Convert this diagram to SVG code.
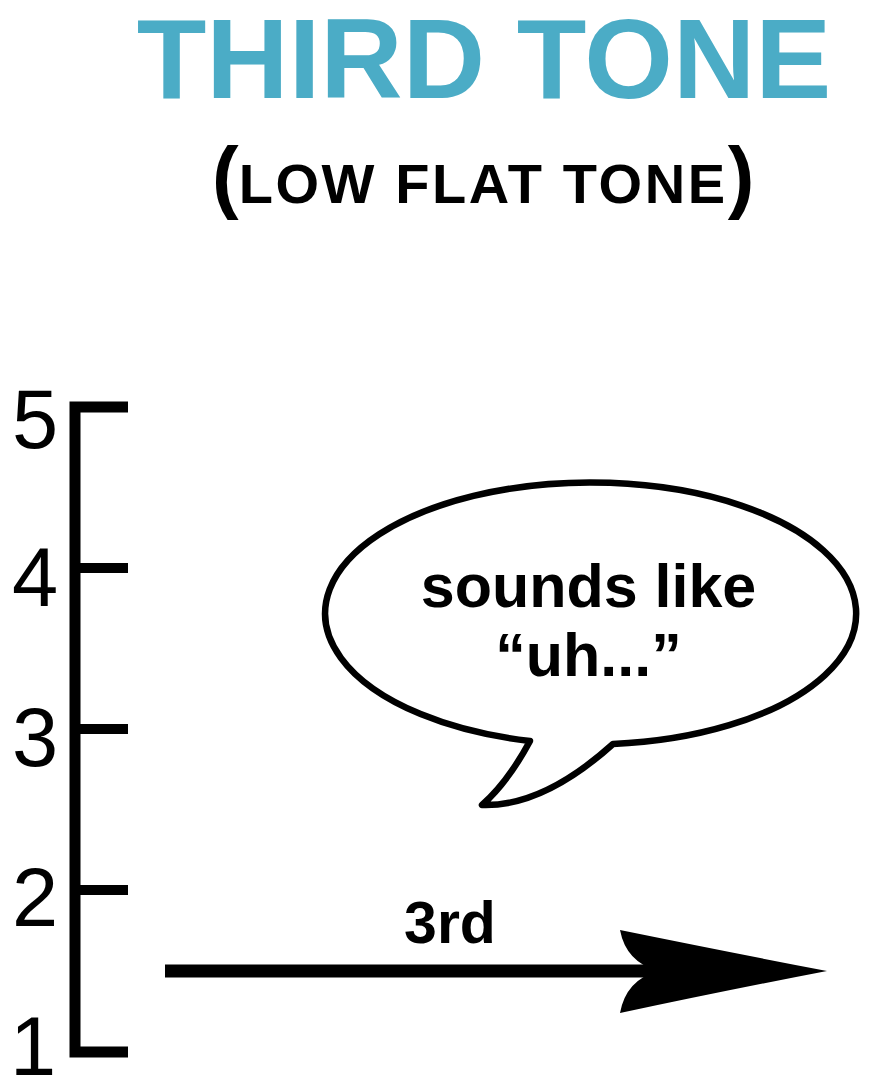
<svg xmlns="http://www.w3.org/2000/svg" width="888" height="1090" viewBox="0 0 888 1090">
  <style>
    .title { font-family: "Liberation Sans", Arial, sans-serif; font-weight: bold; fill: #4BACC6; }
    .sub { font-family: "Liberation Sans", Arial, sans-serif; font-weight: bold; fill: #000; }
    .num { font-family: "Liberation Sans", Arial, sans-serif; font-size: 83px; fill: #000; text-anchor: middle; }
    .lbl { font-family: "Liberation Sans", Arial, sans-serif; font-weight: bold; fill: #000; text-anchor: middle; }
    .axis { fill: none; stroke: #000; stroke-width: 11; stroke-linejoin: miter; stroke-linecap: butt; }
    .tick { stroke: #000; stroke-width: 10; }
  </style>
  <rect width="888" height="1090" fill="#fff"/>

  <g id="title">
    <text class="title" x="484" y="98" font-size="114" text-anchor="middle">THIRD TONE</text>
    <text class="sub" x="212" y="203"><tspan font-size="80">(</tspan><tspan font-size="56" letter-spacing="2.6">LOW FLAT TONE</tspan><tspan font-size="80">)</tspan></text>
  </g>

  <g id="scale">
    <path class="axis" d="M128 407 H75 V1052 H128"/>
    <line class="tick" x1="75" y1="568" x2="128" y2="568"/>
    <line class="tick" x1="75" y1="729" x2="128" y2="729"/>
    <line class="tick" x1="75" y1="890" x2="128" y2="890"/>
    <text class="num" x="35" y="448">5</text>
    <text class="num" x="35" y="606">4</text>
    <text class="num" x="35" y="766">3</text>
    <text class="num" x="35" y="926">2</text>
    <text class="num" x="33" y="1075">1</text>
  </g>

  <g id="bubble">
    <path d="M613 744 A265.5 131 0 1 0 530 741 Q508 782 482 805 Q543 807 613 744 Z" fill="#fff" stroke="#000" stroke-width="6.5" stroke-linejoin="round"/>
    <text class="lbl" x="588.5" y="607" font-size="61">sounds like</text>
    <text class="lbl" x="588.5" y="676" font-size="61">“uh...”</text>
  </g>

  <g id="connectors">
    <line x1="165" y1="971" x2="665" y2="971" stroke="#000" stroke-width="13"/>
    <path d="M827 971 Q728 952 620 930 Q626 962 658 971 Q626 980 620 1013 Q728 990 827 971 Z" fill="#000"/>
    <text class="lbl" x="450" y="943" font-size="59">3rd</text>
  </g>
</svg>
